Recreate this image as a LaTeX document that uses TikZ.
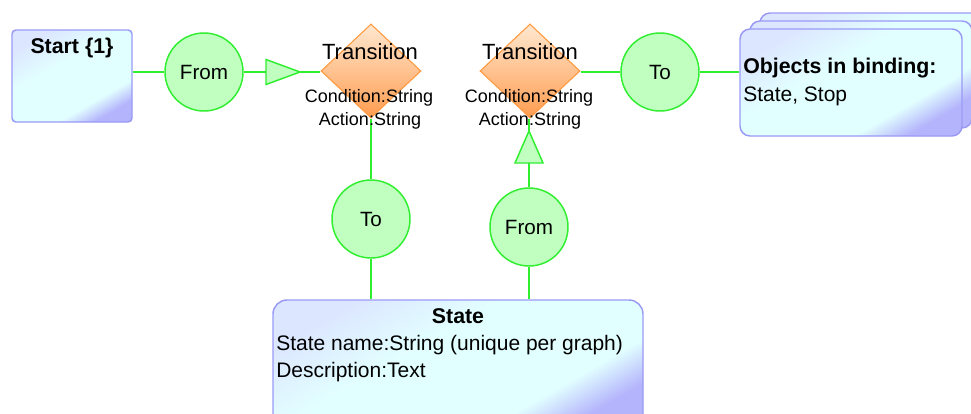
\documentclass[tikz,border=0pt]{standalone}
\usepackage{fontspec}
\setmainfont{Liberation Sans}
\usetikzlibrary{shapes.geometric,calc}
\definecolor{gline}{HTML}{30EE30}
\definecolor{gfill}{HTML}{C0FFC0}
\definecolor{bborder}{HTML}{9A9AF5}
\definecolor{bA}{HTML}{DCE6FF}
\definecolor{bB}{HTML}{E2FFFF}
\definecolor{bC}{HTML}{B4B4FC}
\definecolor{oborder}{HTML}{FF9A40}
\definecolor{oA}{HTML}{FFE8D0}
\definecolor{oB}{HTML}{FF9C50}
\pgfdeclareverticalshading{boxshade}{100bp}{color(0bp)=(bC); color(25bp)=(bC); color(34bp)=(bB); color(58bp)=(bB); color(75bp)=(bA); color(100bp)=(bA)}
\begin{document}
\begin{tikzpicture}[x=0.75pt,y=-0.75pt,
  conn/.style={draw=gline, line width=1.3pt},
  port/.style={circle, draw=gline, fill=gfill, line width=1.1pt, minimum size=58.5pt, inner sep=0pt, font=\fontsize{15.5}{18}\selectfont},
  tri/.style={draw=gline, fill=gfill, line width=1.1pt, line join=miter},
  box/.style={draw=bborder, line width=1.1pt, shading=boxshade, shading angle=30, inner sep=0pt},
  trans/.style={diamond, draw=oborder, line width=0.8pt, top color=oA, bottom color=oB, inner sep=0pt, minimum width=75pt, minimum height=70.5pt},
  txt/.style={inner sep=0pt, font=\fontsize{15.75}{19}\selectfont},
  ttxt/.style={inner sep=0pt, font=\fontsize{16.5}{19}\selectfont},
  btxt/.style={inner sep=0pt, font=\fontsize{16}{19}\selectfont\bfseries},
  stxt/.style={inner sep=0pt, font=\fontsize{13.5}{16}\selectfont}
]
\clip (0,0) rectangle (971,414);
\fill[white] (0,0) rectangle (971,414);

% boxes
\node[box, rounded corners=3pt, minimum width=90pt, minimum height=69pt] (start) at (72,76) {};
\node[box, rounded corners=7.5pt, minimum width=166.5pt, minimum height=80.25pt] (objC) at (871,66.5) {};
\node[box, rounded corners=7.5pt, minimum width=166.5pt, minimum height=80.25pt] (objB) at (861,74.5) {};
\node[box, rounded corners=7.5pt, minimum width=166.5pt, minimum height=80.25pt] (obj) at (851,82.5) {};
\node[box, rounded corners=10.5pt, minimum width=277.5pt, minimum height=97.5pt] (state) at (458,365) {};

% transitions
\node[trans] (tr1) at (371,71) {};
\node[trans] (tr2) at (530,71) {};

% ports
\node[port] (from1) at (204,72) {From};
\node[port] (to2) at (660,72) {To};
\node[port] (to1) at (371,219) {To};
\node[port] (from2) at (529,227) {From};

% triangle coordinates
\coordinate (t1b) at (266,72);
\coordinate (t1t) at (300,72);
\coordinate (t2b) at (529,163);
\coordinate (t2t) at (529,131);

% connectors
\draw[conn] (start.east |- from1.west) -- (from1.west);
\draw[conn] (from1.east) -- (t1b);
\draw[conn] (t1t) -- (t1t -| tr1.west);
\draw[conn] (tr2.east |- to2.west) -- (to2.west);
\draw[conn] (to2.east) -- (to2.east -| obj.west);
\draw[conn] (tr1.south) -- (to1.north);
\draw[conn] (to1.south) -- (to1.south |- state.north);
\draw[conn] (from2.south) -- (from2.south |- state.north);
\draw[conn] (from2.north) -- (t2b);
\draw[conn] (t2t) -- (t2t |- tr2.south);

% triangles
\filldraw[tri] ($(t1b)+(0,-12.5)$) -- (t1t) -- ($(t1b)+(0,12.5)$) -- cycle;
\filldraw[tri] ($(t2b)+(-14,0)$) -- (t2t) -- ($(t2b)+(14,0)$) -- cycle;

% texts
\node[btxt, anchor=base] (startlbl) at (72,53) {Start \{1\}};
\node[ttxt, anchor=base] (tn1) at (370,59) {Transition};
\node[stxt, anchor=base] (tc1) at (369,102) {Condition:String};
\node[stxt, anchor=base] (ta1) at (370,125) {Action:String};
\node[ttxt, anchor=base] (tn2) at (530,59) {Transition};
\node[stxt, anchor=base] (tc2) at (529,102) {Condition:String};
\node[stxt, anchor=base] (ta2) at (530,125) {Action:String};
\node[btxt, anchor=base west] (objt) at (743,73) {Objects in binding:};
\node[txt, anchor=base west] (objl) at (743,101) {State, Stop};
\node[btxt, anchor=base] (statet) at (458,323) {State};
\node[txt, anchor=base west] (state1) at (276,350) {State name:String (unique per graph)};
\node[txt, anchor=base west] (state2) at (276,377) {Description:Text};
\end{tikzpicture}
\end{document}
